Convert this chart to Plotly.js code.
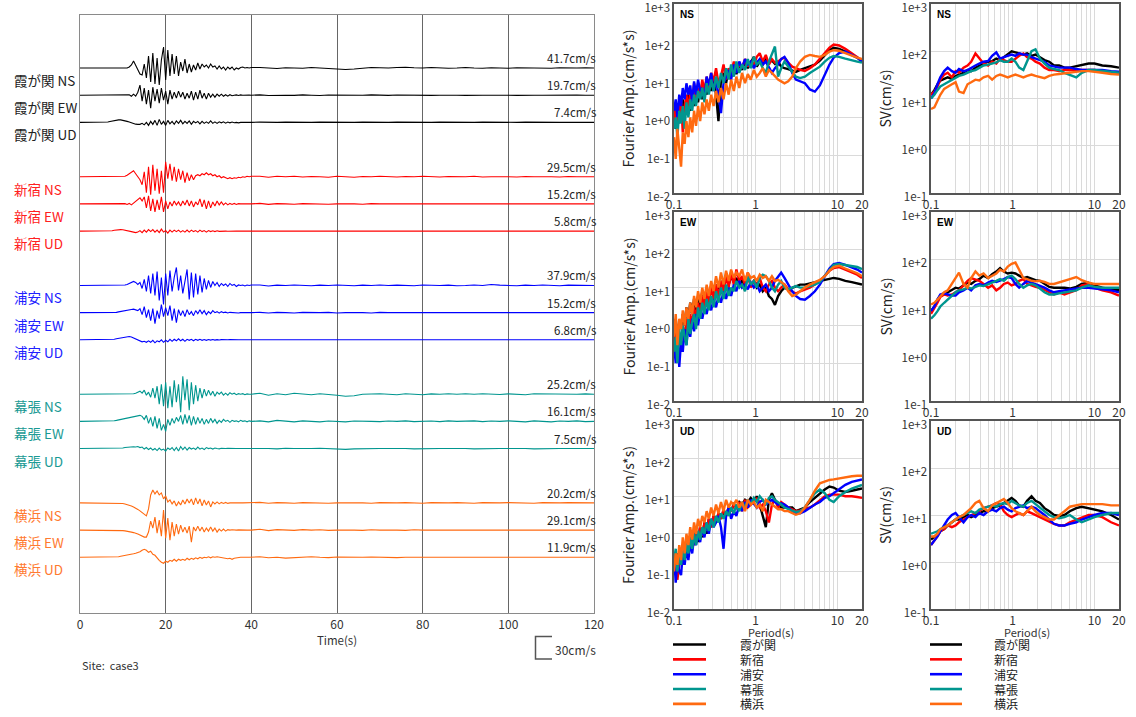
<!DOCTYPE html>
<html><head><meta charset="utf-8">
<script src="https://cdn.plot.ly/plotly-3.0.1.min.js"></script>
<style>html,body{margin:0;padding:0;background:#fff}</style>
</head><body><div id="chart" style="width:1136px;height:717px"></div>
<script>
const W = 1136, H = 717;
const px = x => x / W, py = y => 1 - y / H;

// ---------- categories ----------
const STATIONS = ['霞が関', '新宿', '浦安', '幕張', '横浜'];
const COMPONENTS = ['NS', 'EW', 'UD'];
const COLORS = ['#000000', '#ff0000', '#0000ff', '#00968f', '#ff6a10'];
const LABEL_COLORS = ['#222222', '#ff2020', '#2020ff', '#1a9a94', '#ff7a30'];
const PEAK_VEL = [[41.7, 19.7, 7.4], [29.5, 15.2, 5.8], [37.9, 15.2, 6.8], [25.2, 16.1, 7.5], [20.2, 29.1, 11.9]];

// ---------- velocity waveforms (head: t = 6..40 s every 0.5 s; tail: t = 42..120 s every 2 s) ----------
const kas_NS = [0,0,0,0,0,0,0,0,0,0,0, 1,3,7,3,-2,-6,-7,4,-10,12,-14,15,-16,10,-17,8,21,-12,18,-8,14,-6,12,-8,6,-3,9,-5,4,-4,3,-2,5,-1,4,1,3,0,4,1,2,-1,2,-1,1,-2,1,-1,1,-2,0,-1,0.5,1,0,0.5,0,0.5];
const kas_EW = [0,0,0,0,0,0,0,0,0,0,0, 0.5,-1,1,-1,3,10,-6,7,-9,5,-13,8,-6,6,-8,7,-5,4,-9,5,-4,3,-3,4,-2,3,-4,2,-3,4,-5,3,-4,5,-3,2,-4,2,-2,1,-2,1,-1,1,-1,0.5,-1,0.5,-0.5,0,0.3,-0.3,0.3,0,0.3,0,0.2,0];
const kas_UD = [0,0.3,0.8,1.3,1.8,2.2,2.5,2.5,2.2,1.7,1, 0.3,-0.5,-1.2,-1.8,-2,-2,-1,-2.5,0,-3,1,-2,2,-3,3,-2,1,-3,2,-1.5,1,-2,1.5,-1,2,-1.5,1,-1,1.5,-2,1,-0.5,1,-1.5,1,-1,0.5,-1,1.5,-1,0.5,-1,0.5,-0.5,0.5,-0.8,0.3,-0.5,0.3,-0.3,0,-0.5,0,0.3,0,0,0.2,0];
const shi_NS = [0,0,0,0,0,0,0,0,0,0.5,1.5, 3,5,6,3,0,-3,-8,5,-16,10,-18,12,-14,8,-17,6,-16,15,-2,13,-4,10,-5,8,-3,6,-6,4,-4,2,-3,1,2,1,3,2,4,2,3,1,2,0,1,-1,0,-1,-2,-1,-2,-1,-1.5,-0.5,-1,0,-0.5,0.5,0,0.5];
const shi_EW = [0,0,0,0,0,0,0,0,0,0.3,-0.5, 0.5,-1,1,2,4,6,3,7,-4,8,-7,5,-8,4,-6,7,-8,3,-5,2,-2,3,-1,2,-2,3,-1,4,-2,3,-3,2,-1,5,-3,4,-5,3,-4,2,-2,3,-1,2,-1,1,-1,0.5,-0.5,0.5,-0.5,0.3,0,0.2,0,0,0.2,0];
const shi_UD = [0,0,0,0.3,0.8,1.2,1.5,1.5,1.3,1,0.5, 0,-0.5,-1,-1.5,-1,0.5,-1.5,1,-1,1.5,-0.5,1.5,-1,1,-1.5,2,-1,0.5,-2,1,-1,1,-0.5,1,-1,0.5,-1,1,-1,1,-0.5,0.5,-1,1,-0.5,0.5,-1,0.5,-0.5,0.3,-0.5,0.3,-0.3,0,0.2,0,-0.2,0,0.2,0,0,0,0.2,0,0,0,0,0];
const ura_NS = [0,0,0,0,0,0,0,0,0,0.5,1, 2,3,4,3,1,3,-3,6,-6,10,-8,12,-10,14,-15,8,-19,12,-10,15,-6,8,18,-5,10,-8,6,16,-14,13,-12,12,-9,10,-7,7,-4,5,-2,4,0,3,-1,2,0,1.5,-1,2,0,1,-1,0.5,0,0.5,-0.5,0.5,0,0.5];
const ura_EW = [0,0,0,0,0,0.3,0.8,1.3,1.8,2.2,2.5, 3,3.2,3.5,3,2,4,-2,6,-5,3,-8,4,-11,2,-6,8,-4,5,-3,7,-8,4,-10,3,-3,2,-4,3,-2,1,-3,2,-1,3,-1,2,-2,1,-1,2,0,1,-0.5,1,0,0.5,-0.3,0.3,0,0.3,0,-0.3,0,0.2,0,0,0.2,0];
const ura_UD = [0,0,0,0.3,0.6,1,1.5,2,2.5,3,3.2, 3.3,2.8,2,1,0,-1,-2,-1.5,-2.5,-1,-2.5,-0.5,-3,-1,-2,0,-2.5,-0.5,-2,0.5,-1.5,0.5,-1,1,-1,0.5,-1.5,0.5,-0.5,0.5,-1,0.5,-0.5,0.5,-0.5,0.3,-0.5,0.3,-0.3,0.3,-0.3,0.2,-0.2,0.2,0,0,0,0.2,0,0,-0.2,0,0,0,0,0,0,0];
const mak_NS = [0,0,0,0,0,0,0,0,0,0,0, 0,0,0.5,1,2,3,1,4,-1,2,-3,6,-4,8,-10,10,-12,12,-14,8,-13,14,-8,10,-18,18,-6,15,-16,12,-10,9,-7,6,-4,5,-2,4,-1,3,-2,2,0,2,-1,1,-1,1.5,0,1,-0.5,0.5,0,0.5,-0.5,0.3,0,0];
const mak_EW = [0,0,0,0.3,0.6,1,1.5,2,2.5,3,3.5, 4,4.5,5,5.5,6,6,5,2,6,-2,4,-5,5,-7,3,-9,-3,-10,2,-4,3,-2,4,0,6,-3,7,-2,6,-4,5,-3,4,-2,3,-3,2,-2,3,-1,2,-2,1,-1,2,0,1,-1,1,0,0.5,-0.5,1,0,0.5,-0.5,0.5,0];
const mak_UD = [0,0,0,0,0,0,0,0.3,0.6,1,1.3, 1.5,1.5,1.8,1.5,2,1,1.5,-0.5,1,-1,0.5,-1.5,0,-2,0.5,-1.5,-0.5,-2.5,0.5,-1,1,-2,1,-2.5,2,-1,1.5,-1.5,1,-0.5,0.5,-1,1.5,-0.5,0.5,-1,1,0,0.5,-0.5,0.5,0,-0.3,0.3,0,0,0.2,0,0,0,0,0,0,0,0,0,0,0];
const yok_NS = [0,0,0,0,0,0,0,-0.3,-0.6,-1,-1.5, -2,-3,-4,-5,-6.5,-8,-10,-12,-13,-6,8,13,9,12,8,10,4,7,1,3,-1,2,-3,1,-2,3,-1,4,0,4,-2,5,-1,4,-3,3,-2,2,-4,1,-1,1,-1,0.5,-0.5,0.5,-0.5,0,0.3,0,0,0.3,0,0,0,0,0,0];
const yok_EW = [0,0,0,0,0,0,0,-0.3,-0.5,-0.8,-1, -1.5,-2,-2.5,-3,-4,-5,-6,-7,-7,-2,9,2,13,-3,10,-6,20,-8,12,-10,8,-6,6,-4,5,-2,3,-3,4,-12,3,-1,4,-1,3,-2,2,-1,3,-1,2,-2,1,-1,1,-1,0.5,0,0.3,0,0,0.2,0,0,0,0,0,0];
const yok_UD = [0,0,0,0,0,0.3,0.6,1,1.3,1.6,2, 2.5,3,3.5,4,4.5,5.5,7,8,7,5,6,3,2,-1,-3,-5,-6,-4,-5,-3,-4,-2,-4,-2,-3,-2,-3,-1,-2.5,-1,-2,-0.5,-1.5,0,-1,0,-0.5,0.5,-0.5,0.5,0,0.5,0,0,-0.5,-1,-1.5,-1,-2,-1,-0.5,0,0,0,0.3,0,0,0];

const kas_NS_tail = [0.5,0,-0.5,0.3,0,-0.3,0.5,0,-0.5,-1,-1.5,-1,0,0.5,0.3,0,0.5,0.8,0.3,0,0.5,0,-0.3,0,0.5,0,-0.3,0.3,0,-0.3,0.3,0,0.3,0,-0.3,0.3,0,0,0.3,0];
const kas_EW_tail = [0.3,-0.3,0.2,0,-0.2,0.3,0,-0.3,0.2,0,0.2,-0.2,0,0.3,0,-0.2,0.2,0,0,0.3,-0.2,0,0.2,0,-0.2,0.2,0,0,0.3,0,-0.2,0.2,0,0,0.2,-0.2,0,0.2,0,0];
const kas_UD_tail = [0.2,-0.2,0,0.2,0,-0.2,0,0.2,0,0,-0.2,0,0.2,0,0,0,0.2,0,-0.2,0,0,0.2,0,0,-0.2,0,0.2,0,0,0,0,0.2,0,-0.2,0,0,0,0.2,0,0];
const shi_NS_tail = [0.5,-0.5,0.5,0,0.5,-0.3,0.3,0,-0.5,0.5,0,-0.5,0.3,0,0.5,0,-0.3,0.3,0,0.5,0,-0.3,0.3,0,0,0.5,-0.3,0,0.3,0,-0.3,0.3,0,0.3,0,-0.3,0.3,0,0.3,0];
const shi_EW_tail = [0.5,-0.5,0.3,0,-0.3,0.3,0,0.3,-0.3,0,0.3,0,-0.3,0.3,0,0,0.3,-0.3,0,0.3,0,0,-0.3,0.3,0,0,0.3,0,-0.3,0,0.3,0,0,0.3,-0.3,0,0.3,0,0,0];
const shi_UD_tail = [0.2,0,-0.2,0,0.2,0,0,-0.2,0,0.2,0,0,0,0.2,0,-0.2,0,0,0.2,0,0,0,-0.2,0,0.2,0,0,0,0,0.2,0,0,-0.2,0,0,0.2,0,0,0,0];
const ura_NS_tail = [0.5,-0.5,0.3,0,0.5,0,-0.3,0.3,0,0.5,0,-0.3,0.3,0,0.5,0,0.3,0,-0.3,0.5,0,0,0.3,-0.3,0,0.5,0,1,0.3,0,-0.3,0.3,0,0.5,0,-0.3,0.3,0,0.3,0];
const ura_EW_tail = [0.3,-0.3,0.3,0,-0.3,0.3,0,0,0.3,-0.3,0,0.3,0,-0.3,0.3,0,0,0.3,0,-0.3,0.3,0,0,0.3,0,-0.3,0,0.3,0,0,0.3,-0.3,0,0.3,0,0,0.3,0,-0.2,0];
const ura_UD_tail = [0.3,-0.3,0.2,0,-0.2,0.2,0,0,0.2,-0.2,0,0.2,0,0,-0.2,0.2,0,0,0.2,0,-0.2,0,0.2,0,0,-0.2,0.2,0,0,0.2,0,-0.2,0,0.2,0,0,0.2,0,0,0];
const mak_NS_tail = [1,-1,0.5,-0.5,1,0,-0.5,0.5,0,-1,-2,-1.5,0,0.5,0.5,0,-0.5,0.5,0,-0.5,0.3,0,0.5,0,0.5,0,0.5,0,-0.3,0.3,0,-0.5,0.5,0.3,0,0.5,0,0,0.3,0];
const mak_EW_tail = [0.5,-0.5,1,0,-0.5,0.5,0,-0.5,0.3,0,-0.5,0.3,0.5,0,-0.3,0.3,0,0.5,-0.3,0,0.3,-0.3,0.5,0,0,0.5,-0.3,0.3,0,0.5,0,-0.5,0.5,0,-0.5,0.3,0,0.5,-0.3,0];
const mak_UD_tail = [0.5,0,-0.3,0.3,0,-0.3,0,0.3,0,-0.5,-0.8,-0.3,0,0.3,0,0,0.3,0,-0.3,0,0.3,0,0,0.3,0,-0.3,0,0.3,0,0,0.3,0,-0.3,0,0.3,0,0,0.3,0,0];
const yok_NS_tail = [0.5,-0.3,0.3,0,-0.3,0.3,0,0.3,-0.3,0,0.3,0,0,-0.3,0.3,0,0,0.3,0,-0.3,0.3,0,0,0.3,0,-0.3,0.3,0,0,0.3,0,0,-0.3,0.3,0,0,0.3,0,0,0];
const yok_EW_tail = [0.8,-0.5,0.5,0,-0.3,0.5,0,0.3,-0.3,0,0.3,0,-0.3,0.3,0,0.3,0,-0.3,0.3,0,0,0.3,0,-0.3,0.3,0,0,0.3,0,0,-0.3,0.3,0,0,0.3,0,0,0.3,0,0];
const yok_UD_tail = [0.5,-0.5,0,-0.8,-0.5,0,0.5,0,-0.3,0.3,0,-0.3,0,0.3,0,0,-0.3,0,0.3,0,0,0,0.3,0,-0.3,0,0,0.3,0,0,-0.3,0,0.3,0,0,0,0.3,0,0,0];

const WAVE_HEAD = [[kas_NS, kas_EW, kas_UD], [shi_NS, shi_EW, shi_UD], [ura_NS, ura_EW, ura_UD], [mak_NS, mak_EW, mak_UD], [yok_NS, yok_EW, yok_UD]];
const WAVE_TAIL = [[kas_NS_tail, kas_EW_tail, kas_UD_tail], [shi_NS_tail, shi_EW_tail, shi_UD_tail], [ura_NS_tail, ura_EW_tail, ura_UD_tail], [mak_NS_tail, mak_EW_tail, mak_UD_tail], [yok_NS_tail, yok_EW_tail, yok_UD_tail]];
const TIME_TICKS = [0, 20, 40, 60, 80, 100, 120];

// ---------- spectra ----------
const PERIOD_F = [0.100,0.105,0.110,0.116,0.122,0.128,0.135,0.142,0.150,0.158,0.167,0.176,0.186,0.197,0.209,0.222,0.236,0.251,0.267,0.285,0.305,0.327,0.350,0.376,0.404,0.434,0.467,0.50,0.54,0.58,0.63,0.68,0.74,0.80,0.87,0.95,1.03,1.12,1.22,1.33,1.45,1.58,1.72,1.88,2.05,2.25,2.5,2.8,3.1,3.5,4.0,4.6,5.3,6.1,7.0,8.0,9.0,10.5,12.5,15,17.5,20];
const PERIOD_S = [0.10,0.11,0.12,0.13,0.145,0.16,0.18,0.2,0.22,0.25,0.28,0.31,0.35,0.39,0.44,0.5,0.56,0.63,0.7,0.78,0.87,0.97,1.08,1.2,1.35,1.5,1.7,1.9,2.15,2.45,2.8,3.2,3.7,4.3,5.0,6.0,7.0,8.5,10,12.5,16,20];

const FOURIER_NS = [
 [1.2,0.5,2.0,0.7,1.5,3.0,1.0,2.5,4.0,1.5,3.5,2.0,5.0,2.5,6.0,3.0,7.0,4.0,9.0,5.0,12,4.0,0.8,10,15,8,18,12,22,14,25,18,30,20,28,40,22,30,25,35,28,32,26,30,22,20,19,17,16,18,20,22,25,32,45,60,70,65,55,45,38,30],
 [0.8,2.0,0.6,1.5,3.0,0.4,2.0,4.0,1.5,5.0,2.5,8.0,3.0,6.0,4.0,10,5.0,12,6.0,15,9.0,20,8.0,12,25,10,20,15,30,18,25,20,35,22,30,25,40,50,30,45,25,35,28,30,35,38,28,22,20,18,17,20,25,35,50,70,85,80,65,50,40,32],
 [1.5,3.0,1.0,4.0,2.0,6.0,3.0,8.0,4.0,7.0,2.5,9.0,4.0,10,5.0,6.0,3.0,12,7.0,15,5.0,10,4.0,1.3,8.0,12,18,10,25,15,30,20,35,25,30,20,28,35,25,30,22,15,20,25,35,40,28,15,10,9,8,5.5,4.8,7,14,25,38,50,55,45,38,30],
 [0.5,1.0,0.3,1.5,0.7,2.0,0.5,2.5,1.0,3.0,1.5,4.0,2.0,5.0,3.0,6.0,2.5,8.0,4.0,10,5.0,12,6.0,15,8.0,20,10,25,12,30,15,25,18,35,20,40,25,30,20,15,30,45,75,12,20,30,22,15,12,11,12,15,18,22,30,38,42,40,36,32,30,28],
 [0.3,0.08,0.5,0.15,0.05,0.4,0.2,0.8,0.3,1.0,0.4,1.5,0.6,2.0,0.8,2.5,1.2,3.0,1.5,4.0,2.0,5.0,2.5,6.0,3.0,8.0,4.0,10,5.0,12,6.0,15,8.0,14,10,18,12,15,20,12,18,15,12,10,9,8,9,12,20,30,40,45,42,40,45,55,60,58,50,42,38,35]
];
const FOURIER_EW = [
 [0.5,1.5,0.4,1.2,0.8,2.0,1.0,3.0,1.5,4.0,2.0,5.0,2.5,6.0,3.0,8.0,4.0,9.0,5.0,10,7.0,12,8.0,15,10,18,12,20,14,18,12,15,10,20,12,15,10,12,8,10,6,5,3.5,6,8,10,9,10,11,12,12,13,14,15,16,17,18,17,15,14,13,12],
 [0.2,0.8,0.15,0.6,0.3,1.0,0.4,1.5,0.6,2.0,1.0,3.0,1.5,4.0,2.0,6.0,3.0,8.0,4.0,10,5.0,12,6.0,15,8.0,20,10,25,12,30,15,20,12,25,10,15,12,18,10,8,12,15,10,8,10,12,9,8,7,8,9,10,12,15,20,28,33,35,30,25,22,18],
 [0.3,0.1,0.5,0.08,0.4,0.2,0.8,0.3,1.0,0.5,1.5,0.7,2.0,1.0,2.5,1.5,3.0,2.0,4.0,2.5,5.0,3.0,6.0,4.0,8.0,5.0,10,6.0,12,8.0,15,10,12,9,14,10,12,8,10,12,8,10,15,20,25,18,12,8,6,5,4.8,6,8,12,20,32,42,45,40,35,30,25],
 [0.2,0.5,0.1,0.8,0.3,1.0,0.5,0.3,1.5,0.6,1.2,2.0,0.8,3.0,1.5,4.0,2.0,5.0,2.5,6.0,3.0,8.0,4.0,10,5.0,12,6.0,10,8.0,15,10,12,8,20,12,15,10,18,22,20,15,10,8,12,15,10,9,10,11,10,10,11,12,14,20,30,40,42,40,38,35,31],
 [0.5,2.0,0.3,1.5,0.8,2.5,1.0,3.0,1.5,4.0,2.0,6.0,3.0,8.0,4.0,10,5.0,12,6.0,15,8.0,20,10,25,12,28,15,30,18,25,20,30,15,25,18,20,15,22,18,20,15,20,15,16,14,12,8,6,6.5,8,10,12,14,16,20,28,35,38,32,28,24,20]
];
const FOURIER_UD = [
 [0.2,0.08,0.3,0.15,0.4,0.2,0.5,0.3,0.8,0.4,1.0,0.5,1.2,0.6,1.5,0.8,2.0,1.0,2.5,1.5,3.0,2.0,3.5,2.5,4.0,3.0,5.0,4.0,6.0,5.0,7.0,6.0,8.0,7.0,9.0,7.0,10,6.0,3,1.5,8,12,8,6,5,5,5,5,4,4.5,5,7,9,12,15,18,17,14,13,14,15,16],
 [0.1,0.3,0.06,0.2,0.4,0.15,0.5,0.3,0.7,0.4,1.0,0.5,1.2,0.7,1.5,0.9,2.0,1.2,2.5,1.5,3.0,2.0,3.5,2.5,4.5,3.0,5.0,4.0,6.0,5.0,7.0,4.0,8.0,5.0,6.0,7.0,9.0,5.0,6.0,4.0,2.0,6.0,8.0,5.0,7.0,6.0,5.0,4.5,4,4.2,4.5,5,6,8,10,11,11,11,10,10,9.5,9],
 [0.3,0.05,0.2,0.1,0.08,0.3,0.15,0.4,0.2,0.6,0.3,0.8,0.5,1.0,0.6,1.5,0.8,2.0,1.0,2.5,1.5,2.0,3.0,1.5,0.4,3.0,5.0,2.5,4.0,3.0,6.0,4.0,7.0,5.0,8.0,6.0,5.0,7.0,8.0,6.0,7.0,8.0,7.0,6.0,6.5,6.0,5.0,4,3.5,3.5,4,5,6,7,9,10,12,16,20,24,26,28],
 [0.2,0.4,0.1,0.3,0.15,0.5,0.2,0.6,0.3,0.8,0.4,1.0,0.5,1.2,0.7,1.5,1.0,2.0,1.2,2.5,1.5,3.0,2.0,3.5,2.5,4.0,3.0,5.0,3.5,6.0,4.0,7.0,5.0,8.0,6.0,9.0,7.0,10,8.0,6.0,9.0,10,8.0,7.0,6.0,5.0,4.5,4,3.8,4,5,8,12,15,12,8,7,10,13,16,18,20],
 [0.1,0.3,0.15,0.5,0.2,0.8,0.3,1.0,0.5,1.5,0.7,2.0,1.0,2.5,1.5,3.0,2.0,4.0,2.5,5.0,3.0,6.0,3.5,7.0,4.0,8.0,5.0,7.0,6.0,8.0,5.0,7.0,4.0,8.0,6.0,7.0,5.0,6.0,4.0,8.0,7.0,6.0,5.0,4.5,4.5,4.0,4.0,3.5,3.2,3.5,5,8,14,22,25,27,28,30,32,34,35,35]
];
const SV_NS = [
 [12,15,20,24,26,28,26,30,32,35,40,38,45,50,55,60,62,70,65,75,85,100,95,90,85,90,80,85,75,65,60,50,50,45,45,48,50,55,55,50,48,45],
 [12,14,18,25,32,35,28,38,35,45,50,60,90,70,55,50,60,55,70,65,60,60,70,80,90,75,70,60,55,45,40,40,38,40,40,40,40,40,40,38,36,35],
 [10,13,20,28,38,45,38,35,42,38,40,45,50,55,60,62,80,95,70,75,80,85,80,90,85,85,75,70,65,60,50,48,45,45,45,42,40,40,40,40,38,37],
 [10,12,15,18,20,22,25,28,30,32,35,38,40,45,50,52,55,58,65,60,60,70,60,45,40,60,100,110,70,55,45,42,40,35,32,28,35,40,40,38,36,35],
 [6,6.5,9,12,16,18,20,22,14,13,20,22,25,24,28,30,25,30,32,30,28,30,32,30,28,30,32,30,28,27,30,32,33,34,35,37,38,38,37,35,33,32]
];
const SV_EW = [
 [8,10,14,17,18,20,22,25,24,28,32,30,35,38,45,40,48,55,65,55,50,52,50,45,40,42,38,36,35,30,26,25,25,25,24,26,30,32,28,25,23,22],
 [7,9,12,16,18,17,18,20,22,28,35,40,38,35,30,25,28,22,25,30,32,28,30,35,38,30,28,26,25,22,20,18,20,18,20,22,28,30,25,22,20,17],
 [8,10,14,18,19,18,17,17,20,22,25,22,28,30,28,32,35,33,35,38,42,40,30,25,30,35,32,30,28,25,22,20,21,22,23,24,25,25,24,23,22,20],
 [5.5,6.5,8,10,12,14,17,20,22,23,25,24,26,28,27,30,32,35,38,35,42,45,38,30,25,28,30,28,24,20,18,18,19,20,21,22,25,28,26,25,25,25],
 [11,12,14,16,20,22,30,40,52,30,25,40,55,45,50,40,45,50,60,55,70,80,85,60,40,38,35,34,35,33,30,30,32,35,38,42,36,32,30,30,30,30]
];
const SV_UD = [
 [3,3.5,4,4.5,5,6,7,8,8,9,10,9,10,11,12,12,14,15,16,18,20,23,20,16,15,20,25,20,18,14,12,10,9.5,10,12,14,15,14,13,12,10,8],
 [2.3,2.8,3.5,4.5,5,6,5.5,6,7,8,9,10,11,12,14,15,16,18,17,12,10,9,10,11,10,12,11,10,9,8,7,6.5,6,6,7,8,9,10,10,9,7,6],
 [2.3,2.8,3.5,4.5,6,8,10,11,9,7,9,10,9,11,10,12,13,12,14,15,13,12,14,15,16,14,15,14,12,10,8,6.5,6,6,6.5,7,8,9,10,11,11,10],
 [4,4.2,4.5,5,5.5,6,7,8,9,10,11,12,11,13,14,15,16,15,17,18,17,20,18,16,15,18,20,17,14,12,10,9,8.5,9,10,8,7,8,9,10,11,11],
 [3.5,3.5,4,5,5.5,6,7,8,9,10,12,14,18,20,14,12,16,18,20,22,18,14,12,11,10,12,15,12,10,9,8,8,10,12,15,16,17,17,17,17,16,16]
];
const PERIOD_TICKS = [0.1,0.2,0.3,0.4,0.5,0.6,0.7,0.8,0.9,1,2,3,4,5,6,7,8,9,10,20];
const PERIOD_TICK_TEXT = ['0.1','','','','','','','','','1','','','','','','','','','10','20'];
const FOURIER_TICKS = [0.01, 0.1, 1, 10, 100, 1000];
const FOURIER_TICK_TEXT = ['1e-2', '1e-1', '1e+0', '1e+1', '1e+2', '1e+3'];
const SV_TICKS = [0.1, 1, 10, 100, 1000];
const SV_TICK_TEXT = ['1e-1', '1e+0', '1e+1', '1e+2', '1e+3'];

// ---------- build ----------
const FONT = 'Noto Sans CJK JP, Noto Sans, sans-serif';
const GAP = 27.2;   // vertical spacing between trace baselines (display units)
const traces = [];
const annotations = [];
const shapes = [];

STATIONS.forEach((st, g) => {
  COMPONENTS.forEach((cp, c) => {
    const k = 4 * g + c;
    const base = -k * GAP;
    const x = [0], y = [base];
    WAVE_HEAD[g][c].forEach((v, i) => { x.push(6 + 0.5 * i); y.push(base + v); });
    WAVE_TAIL[g][c].forEach((v, i) => { x.push(42 + 2 * i); y.push(base + v); });
    traces.push({type: 'scatter', mode: 'lines', x, y, xaxis: 'x', yaxis: 'y',
      line: {color: COLORS[g], width: 1.1}, hoverinfo: 'skip', showlegend: false});
    annotations.push({xref: 'paper', yref: 'y', x: px(12), y: base - 12, xanchor: 'left', yanchor: 'middle',
      text: st + ' ' + cp, showarrow: false, font: {family: FONT, size: 13.5, color: LABEL_COLORS[g]}});
    annotations.push({xref: 'paper', yref: 'y', x: px(598), y: base + 10, xanchor: 'right', yanchor: 'middle',
      text: PEAK_VEL[g][c].toFixed(1) + 'cm/s', showarrow: false, font: {family: FONT, size: 11.5, color: '#222'}});
  });
});

const ROWS = [[4, 193], [212, 401], [421, 609]];
const FX = [674, 862], SX = [931, 1119];
const SPEC_F = [FOURIER_NS, FOURIER_EW, FOURIER_UD];
const SPEC_S = [SV_NS, SV_EW, SV_UD];

const layout = {
  width: W, height: H, margin: {l: 0, r: 0, t: 0, b: 0},
  paper_bgcolor: '#fff', plot_bgcolor: '#fff', showlegend: false,
  font: {family: FONT, color: '#333'},
  xaxis: {domain: [px(80), px(594)], range: [0, 120], anchor: 'y', tickvals: TIME_TICKS,
    showgrid: true, gridcolor: '#666', gridwidth: 1, zeroline: false,
    showline: true, mirror: true, linecolor: '#8a8a8a', linewidth: 1.3, ticks: '',
    ticklabeloverflow: 'allow',
    tickfont: {family: FONT, size: 12, color: '#333'},
    title: {text: 'Time(s)', font: {family: FONT, size: 11.5, color: '#333'}, standoff: 2}},
  yaxis: {domain: [py(613), py(15)], range: [-(18 + 2.05) * GAP, 1.95 * GAP], anchor: 'x',
    showticklabels: false, showgrid: false, zeroline: false, ticks: '',
    showline: true, mirror: true, linecolor: '#8a8a8a', linewidth: 1.3}
};

function logAxisX(dom, anchor) {
  return {type: 'log', domain: [px(dom[0]), px(dom[1])], anchor, range: [-1, Math.log10(20)],
    tickvals: PERIOD_TICKS, ticktext: PERIOD_TICK_TEXT, showgrid: true, gridcolor: '#dadada', gridwidth: 1,
    zeroline: false, showline: true, mirror: true, linecolor: '#555', linewidth: 1.6, ticks: '',
    ticklabeloverflow: 'allow',
    tickfont: {family: FONT, size: 12, color: '#333'}};
}
function logAxisY(row, anchor, lo, vals, txt) {
  return {type: 'log', domain: [py(row[1]), py(row[0])], anchor, range: [lo, 3],
    tickvals: vals, ticktext: txt, showgrid: true, gridcolor: '#dadada', gridwidth: 1,
    zeroline: false, showline: true, mirror: true, linecolor: '#555', linewidth: 1.6, ticks: '',
    ticklabeloverflow: 'allow', ticklabelshift: 4,
    tickfont: {family: FONT, size: 11.5, color: '#333'}};
}

ROWS.forEach((row, r) => {
  const fi = 2 + r, si = 5 + r;
  layout['xaxis' + fi] = logAxisX(FX, 'y' + fi);
  layout['yaxis' + fi] = logAxisY(row, 'x' + fi, -2, FOURIER_TICKS, FOURIER_TICK_TEXT);
  layout['xaxis' + si] = logAxisX(SX, 'y' + si);
  layout['yaxis' + si] = logAxisY(row, 'x' + si, -1, SV_TICKS, SV_TICK_TEXT);
  STATIONS.forEach((st, g) => {
    traces.push({type: 'scatter', mode: 'lines', x: PERIOD_F, y: SPEC_F[r][g], xaxis: 'x' + fi, yaxis: 'y' + fi,
      line: {color: COLORS[g], width: 2.4}, hoverinfo: 'skip', showlegend: false});
    traces.push({type: 'scatter', mode: 'lines', x: PERIOD_S, y: SPEC_S[r][g], xaxis: 'x' + si, yaxis: 'y' + si,
      line: {color: COLORS[g], width: 2.4}, hoverinfo: 'skip', showlegend: false});
  });
  [fi, si].forEach(ax => {
    annotations.push({xref: 'x' + ax + ' domain', yref: 'y' + ax + ' domain', x: 0.02, y: 0.985,
      xanchor: 'left', yanchor: 'top', showarrow: false, text: '<b>' + COMPONENTS[r] + '</b>',
      font: {family: 'Liberation Sans, Arial, sans-serif', size: 10, color: '#000'}});
  });
  const cy = py((row[0] + row[1]) / 2);
  annotations.push({xref: 'paper', yref: 'paper', x: px(628), y: cy, textangle: -90, showarrow: false,
    xanchor: 'center', yanchor: 'middle', text: 'Fourier Amp.(cm/s*s)', font: {family: FONT, size: 14, color: '#222'}});
  annotations.push({xref: 'paper', yref: 'paper', x: px(885), y: cy, textangle: -90, showarrow: false,
    xanchor: 'center', yanchor: 'middle', text: 'SV(cm/s)', font: {family: FONT, size: 14, color: '#222'}});
});

// Period labels and legends
[[771, 673, 706, 738], [1027, 930, 962, 992]].forEach(([cx, l0, l1, tx]) => {
  annotations.push({xref: 'paper', yref: 'paper', x: px(cx), y: py(632), showarrow: false,
    xanchor: 'center', yanchor: 'middle', text: 'Period(s)', font: {family: FONT, size: 11, color: '#333'}});
  STATIONS.forEach((st, g) => {
    const yy = 644.5 + g * 14.85;
    shapes.push({type: 'line', xref: 'paper', yref: 'paper', x0: px(l0), x1: px(l1), y0: py(yy), y1: py(yy),
      line: {color: COLORS[g], width: 2.6}});
    annotations.push({xref: 'paper', yref: 'paper', x: px(tx), y: py(yy), showarrow: false,
      xanchor: 'left', yanchor: 'middle', text: st, font: {family: FONT, size: 12, color: '#222'}});
  });
});

// scale bar & site text
shapes.push({type: 'path', xref: 'paper', yref: 'paper',
  path: `M ${px(552)} ${py(636.5)} L ${px(535.5)} ${py(636.5)} L ${px(535.5)} ${py(659)} L ${px(552)} ${py(659)}`,
  line: {color: '#555', width: 1.5}});
annotations.push({xref: 'paper', yref: 'paper', x: px(553), y: py(649), showarrow: false, xanchor: 'left', yanchor: 'middle',
  text: '30cm/s', font: {family: FONT, size: 12, color: '#333'}});
annotations.push({xref: 'paper', yref: 'paper', x: px(80), y: py(665), showarrow: false, xanchor: 'left', yanchor: 'middle',
  text: 'Site:\u00a0\u00a0case3', font: {family: FONT, size: 11, color: '#333'}});

layout.annotations = annotations;
layout.shapes = shapes;
Plotly.newPlot('chart', traces, layout, {staticPlot: true, displayModeBar: false});
</script></body></html>
